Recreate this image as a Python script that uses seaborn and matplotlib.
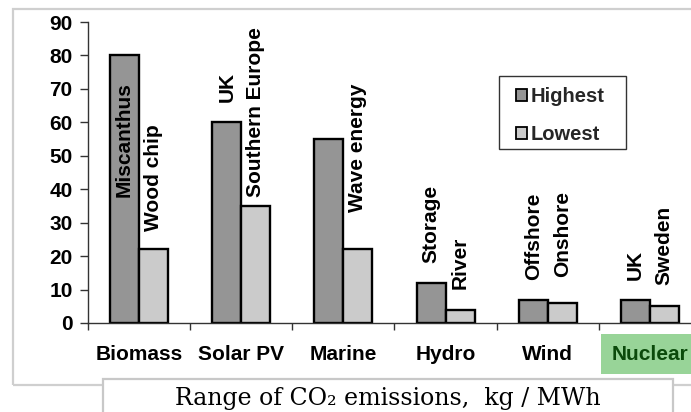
import matplotlib
matplotlib.use("Agg")
import matplotlib.pyplot as plt
import seaborn as sns
import pandas as pd
from matplotlib.patches import Patch, Rectangle

categories = ["Biomass", "Solar PV", "Marine", "Hydro", "Wind", "Nuclear"]
highest = [80, 60, 55, 12, 7, 7]
lowest = [22, 35, 22, 4, 6, 5]
high_labels = ["Miscanthus", "UK", "", "Storage", "Offshore", "UK"]
low_labels = ["Wood chip", "Southern Europe", "Wave energy", "River", "Onshore", "Sweden"]
y_ticks = [0, 10, 20, 30, 40, 50, 60, 70, 80, 90]
title = "Range of CO₂ emissions,  kg / MWh"

# label anchor heights (layout)
high_label_y = [37.7, 66.1, 0, 17.9, 12.9, 12.9]
low_label_y = [27.5, 37.7, 33.2, 10.2, 13.8, 11.4]

sns.set_theme(style="white")
plt.rcParams["font.family"] = ["Liberation Sans", "DejaVu Sans"]

df = pd.DataFrame({
    "cat": categories * 2,
    "val": highest + lowest,
    "series": ["Highest"] * len(categories) + ["Lowest"] * len(categories),
})

W, H = 691, 412
fig = plt.figure(figsize=(W / 100, H / 100), dpi=100)
fig.patch.set_facecolor("white")

# outer chart frame
fig.add_artist(Rectangle((13 / W, 1 - 385 / H), (702 - 13) / W, (385 - 9) / H,
                         transform=fig.transFigure, facecolor="none",
                         edgecolor="#cfcfcf", lw=1.6, zorder=0))

ax = fig.add_axes([88 / W, (H - 323) / H, 613 / W, 301 / H])
colors = ["#959595", "#cbcbcb"]
sns.barplot(data=df, x="cat", y="val", hue="series", palette=colors,
            width=0.567, gap=0, edgecolor="black", linewidth=1.7,
            saturation=1, ax=ax, legend=False)

ax.set_ylim(0, 90)
ax.set_xlim(-0.5, 5.5)
ax.set_yticks(y_ticks)
ax.set_xlabel("")
ax.set_ylabel("")
for s in ["top", "right"]:
    ax.spines[s].set_visible(False)
for s in ["left", "bottom"]:
    ax.spines[s].set_color("#333333")
    ax.spines[s].set_linewidth(1.0)

FS = 15
ax.tick_params(axis="y", which="major", length=6, width=1, color="#333333",
               direction="out", left=True, pad=5, labelsize=FS)
ax.set_xticks(range(len(categories)))
ax.set_xticklabels(categories)
ax.set_xticks([i - 0.5 for i in range(len(categories) + 1)], minor=True)
ax.tick_params(axis="x", which="major", length=0, pad=15.5, labelsize=FS)
ax.tick_params(axis="x", which="minor", length=5, width=1, color="#333333",
               direction="out", bottom=True)
for lab in ax.get_xticklabels() + ax.get_yticklabels():
    lab.set_fontweight("bold")
    lab.set_color("black")

nuc = ax.get_xticklabels()[-1]
nuc.set_color("#0b4a0b")
nuc.set_bbox(dict(facecolor="#98d498", edgecolor="none",
                  boxstyle="square,pad=0.5"))

# bar labels
for cont, labels, ys in [(ax.containers[0], high_labels, high_label_y),
                         (ax.containers[1], low_labels, low_label_y)]:
    for bar, txt, yy in zip(cont, labels, ys):
        if not txt:
            continue
        xc = bar.get_x() + bar.get_width() / 2
        ax.text(xc, yy, txt, rotation=90, ha="center", va="bottom",
                fontsize=FS, fontweight="bold", color="black")

# legend (frame drawn separately)
fig.add_artist(Rectangle((499 / W, 1 - 149 / H), (626 - 499) / W, (149 - 76) / H,
                         transform=fig.transFigure, facecolor="white",
                         edgecolor="#333333", lw=1.0, zorder=3))
handles = [Patch(facecolor=colors[0], edgecolor="black", lw=1.3),
           Patch(facecolor=colors[1], edgecolor="black", lw=1.3)]
leg = fig.legend(handles, ["Highest", "Lowest"], loc="upper left",
                 bbox_to_anchor=(516 / W, 1 - 87 / H), frameon=False,
                 handlelength=0.55, handleheight=0.55,
                 handletextpad=0.2, labelspacing=0.95, borderpad=0,
                 borderaxespad=0, prop={"weight": "bold", "size": 14.5})
leg.set_zorder(4)
leg.set_in_layout(False)

# title box
fig.add_artist(Rectangle((103 / W, 1 - 420 / H), (673 - 103) / W, (420 - 379) / H,
                         transform=fig.transFigure, facecolor="white",
                         edgecolor="#c8c8c8", lw=1.6, zorder=5))
fig.text(388 / W, 1 - 398 / H, title, ha="center", va="center",
         fontsize=17, family=["DejaVu Serif"], color="black", zorder=6)

fig.savefig("out.png", dpi=100)
